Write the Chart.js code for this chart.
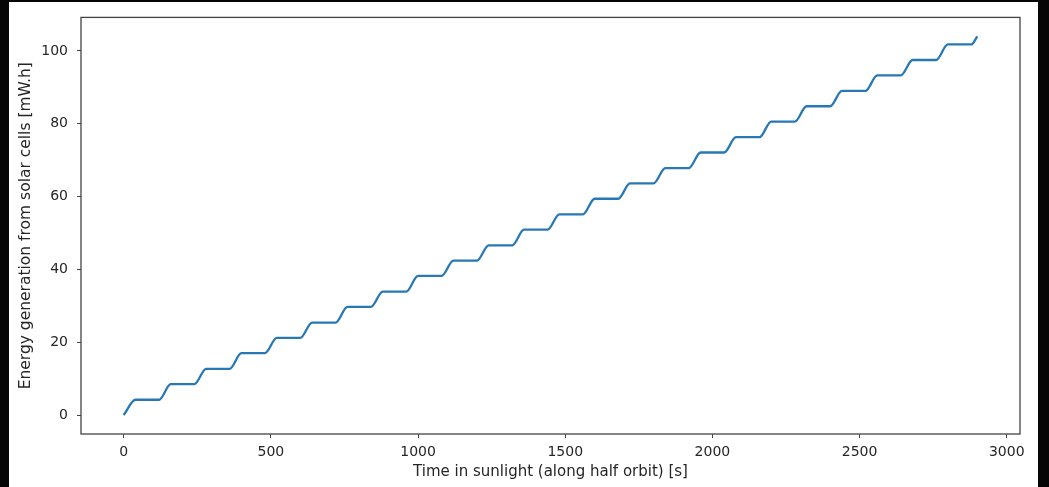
<!DOCTYPE html>
<html>
<head>
<meta charset="utf-8">
<script src="https://cdn.jsdelivr.net/npm/chart.js@4.4.1/dist/chart.umd.min.js"></script>
<style>
  html, body { margin: 0; padding: 0; background: #000; }
  #wrap { width: 1049px; height: 487px; position: relative; background: #000; overflow: hidden; }
  #panel { position: absolute; left: 9px; top: 2px; width: 1029px; height: 485px; background: #fff; }
  #box { position: absolute; left: 0; top: 0; width: 1049px; height: 487px; }
</style>
</head>
<body>
<div id="wrap">
  <div id="panel"></div>
  <div id="box"><canvas id="mycanvas"></canvas></div>
</div>
<script>
// time in sunlight [s] and energy [mW.h] (rise / plateau corners)
var times = [0, 40, 120, 160, 240, 280, 360, 400, 480, 520, 600, 640, 720, 760,
  840, 880, 960, 1000, 1080, 1120, 1200, 1240, 1320, 1360, 1440, 1480, 1560, 1600,
  1680, 1720, 1800, 1840, 1920, 1960, 2040, 2080, 2160, 2200, 2280, 2320, 2400, 2440,
  2520, 2560, 2640, 2680, 2760, 2800, 2880, 2900];
var energy = [0, 4.2, 4.2, 8.5, 8.5, 12.7, 12.7, 17.0, 17.0, 21.2, 21.2, 25.4, 25.4, 29.7,
  29.7, 33.9, 33.9, 38.2, 38.2, 42.4, 42.4, 46.6, 46.6, 50.9, 50.9, 55.1, 55.1, 59.4,
  59.4, 63.6, 63.6, 67.8, 67.8, 72.1, 72.1, 76.3, 76.3, 80.6, 80.6, 84.8, 84.8, 89.0,
  89.0, 93.3, 93.3, 97.5, 97.5, 101.8, 101.8, 104.0];
var xTicks = [0, 500, 1000, 1500, 2000, 2500, 3000];
var yTicks = [0, 20, 40, 60, 80, 100];

var points = [];
for (var i = 0; i < times.length; i++) {
    points.push({x: times[i], y: energy[i]});
}

var tickFont = {family: "'DejaVu Sans', sans-serif", size: 14};
var xTitleFont = {family: "'DejaVu Sans', sans-serif", size: 15};
var yTitleFont = {family: "'DejaVu Sans', sans-serif", size: 15.5};
var ink = '#262626';

// dark edges of the screenshot + box round the axes
var frame = {
    id: 'frame',
    beforeDraw: function(chart) {
        var c = chart.ctx;
        c.save();
        c.fillStyle = '#050505';
        c.fillRect(0, 0, 9, 487);
        c.fillRect(1038, 0, 11, 487);
        c.fillRect(0, 0, 1049, 2);
        c.restore();
    },
    afterDraw: function(chart) {
        var a = chart.chartArea, c = chart.ctx;
        c.save();
        c.strokeStyle = '#444';
        c.lineWidth = 1.3;
        c.strokeRect(a.left, a.top, a.right - a.left, a.bottom - a.top);
        c.restore();
    }
};

new Chart(document.getElementById('mycanvas'), {
    type: 'line',
    data: {
        datasets: [{
            data: points,
            borderColor: '#2878b4',
            borderWidth: 2.3,
            pointRadius: 0,
            fill: false,
            cubicInterpolationMode: 'monotone'
        }]
    },
    options: {
        responsive: true,
        maintainAspectRatio: false,
        animation: false,
        layout: {padding: {top: 17, right: 29, left: 0, bottom: 0}},
        plugins: {legend: {display: false}, tooltip: {enabled: false}},
        scales: {
            x: {
                type: 'linear',
                min: -145,
                max: 3045,
                afterBuildTicks: function(s) { s.ticks = xTicks.map(function(v) { return {value: v}; }); },
                afterFit: function(s) { s.height = 53; },
                grid: {drawOnChartArea: false, tickLength: 4, tickColor: '#444'},
                border: {display: false},
                ticks: {font: tickFont, color: ink, padding: 6, maxRotation: 0,
                        callback: function(v) { return String(v); }},
                title: {display: true, text: 'Time in sunlight (along half orbit) [s]', font: xTitleFont, color: ink, padding: {top: 0, bottom: 6}}
            },
            y: {
                min: -5.2,
                max: 109.2,
                afterBuildTicks: function(s) { s.ticks = yTicks.map(function(v) { return {value: v}; }); },
                afterFit: function(s) { s.width = 81; },
                grid: {drawOnChartArea: false, tickLength: 4, tickColor: '#444'},
                border: {display: false},
                ticks: {font: tickFont, color: ink, padding: 9,
                        callback: function(v) { return String(v); }},
                title: {display: true, text: 'Energy generation from solar cells [mW.h]', font: yTitleFont, color: ink, padding: {top: 16.5, bottom: 0}}
            }
        }
    },
    plugins: [frame]
});
</script>
</body>
</html>
